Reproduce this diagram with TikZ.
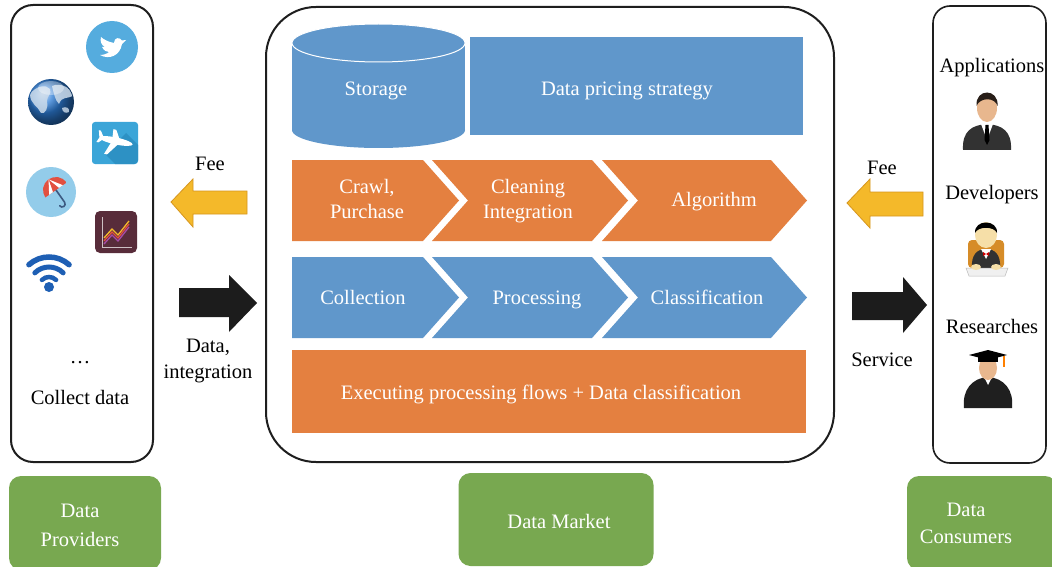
\documentclass[tikz,border=0pt]{standalone}
\usepackage{fontspec}
\setmainfont{Liberation Serif}
\definecolor{mblue}{RGB}{96,151,203}
\definecolor{morange}{RGB}{228,128,64}
\definecolor{mgreen}{RGB}{120,168,80}
\definecolor{myellow}{RGB}{244,185,42}
\definecolor{myellowedge}{RGB}{214,150,30}
\definecolor{frameink}{RGB}{30,30,30}
\definecolor{arrowink}{RGB}{28,28,28}
\definecolor{twblue}{RGB}{85,172,222}
\definecolor{globeblue}{RGB}{45,125,215}
\definecolor{landgrey}{RGB}{205,220,235}
\definecolor{planeblue}{RGB}{59,165,216}
\definecolor{planeshadow}{RGB}{45,145,196}
\definecolor{umbblue}{RGB}{147,204,234}
\definecolor{umbred}{RGB}{226,80,64}
\definecolor{umbhandle}{RGB}{60,90,130}
\definecolor{chartplum}{RGB}{88,44,58}
\definecolor{wifiblue}{RGB}{30,95,180}
\definecolor{skin}{RGB}{232,183,142}
\definecolor{skinpale}{RGB}{246,223,168}
\definecolor{hairdark}{RGB}{40,30,24}
\definecolor{suitdark}{RGB}{50,50,50}
\definecolor{chairorange}{RGB}{214,140,40}
\begin{document}
\begin{tikzpicture}[x=1pt,y=-1pt,
  panel/.style={draw=frameink, line width=2pt},
  lbl/.style={font=\fontsize{20.5}{26}\selectfont, text=black, align=center, inner sep=0pt},
  wlbl/.style={lbl, text=white},
  one/.style={text height=14pt, text depth=0pt},
  greenbox/.style={fill=mgreen, rounded corners=12pt, inner sep=0pt},
  flatbox/.style={inner sep=0pt},
  fatarrowy/.style={fill=myellow, draw=myellowedge, line width=0.8pt},
  fatarrowk/.style={fill=arrowink}
]
\useasboundingbox (0,0) rectangle (1052,567);
\fill[white] (0,0) rectangle (1052,567);

% ---------- three panels ----------
\draw[panel, rounded corners=22pt] (11,5) rectangle (153,462);
\draw[panel, rounded corners=50pt] (266,7) rectangle (834,462);
\draw[panel, line width=1.6pt, rounded corners=17pt] (933,6) rectangle (1046,463);

% ---------- green captions ----------
\node[greenbox, minimum width=152pt, minimum height=94pt] (provbox) at (85,523) {};
\node[wlbl, font=\fontsize{20.5}{29}\selectfont] (provtext) at (80,525) {Data\\Providers};
\node[greenbox, minimum width=195pt, minimum height=93pt] (marketbox) at (556,519.5) {};
\node[wlbl, one] (markettext) at (559,521) {Data Market};
\node[greenbox, minimum width=150pt, minimum height=94pt] (consbox) at (982,523) {};
\node[wlbl, font=\fontsize{20.5}{27}\selectfont] (constext) at (966,523) {Data\\Consumers};

% ---------- storage cylinder ----------
\fill[mblue] (292,43) rectangle (465,130);
\fill[mblue] (378.5,130) ellipse[x radius=86.5, y radius=18];
\draw[white, line width=1pt, fill=mblue] (378.5,43) ellipse[x radius=86.5, y radius=19];
\node[wlbl, one] (storage) at (376,89) {Storage};

% ---------- pricing block ----------
\node[flatbox, fill=mblue, minimum width=333pt, minimum height=98pt] (pricingbox) at (636.5,86) {};
\node[wlbl, one] (pricing) at (627,89) {Data pricing strategy};

% ---------- orange chevrons ----------
\fill[morange] (292,160) -- (423,160) -- (459,200.5) -- (423,241) -- (292,241) -- cycle;
\fill[morange] (432,160) -- (592,160) -- (628,200.5) -- (592,241) -- (432,241) -- (468,200.5) -- cycle;
\fill[morange] (602,160) -- (771,160) -- (807,200.5) -- (771,241) -- (602,241) -- (638,200.5) -- cycle;
\node[wlbl, font=\fontsize{20.5}{25}\selectfont] (crawl) at (367,198.5) {Crawl,\\Purchase};
\node[wlbl, font=\fontsize{20.5}{25}\selectfont] (clean) at (528,201.5) {Cleaning\\Integration};
\node[wlbl, one] (algo) at (714,199) {Algorithm};

% ---------- blue chevrons ----------
\fill[mblue] (292,257) -- (423,257) -- (459,297.5) -- (423,338) -- (292,338) -- cycle;
\fill[mblue] (432,257) -- (592,257) -- (628,297.5) -- (592,338) -- (432,338) -- (468,297.5) -- cycle;
\fill[mblue] (602,257) -- (771,257) -- (807,297.5) -- (771,338) -- (602,338) -- (638,297.5) -- cycle;
\node[wlbl, one] (collection) at (363,297) {Collection};
\node[wlbl, one] (processing) at (537,297) {Processing};
\node[wlbl, one] (classification) at (707,297) {Classification};

% ---------- execution bar ----------
\node[flatbox, fill=morange, minimum width=514pt, minimum height=83pt] (execbox) at (549,391.5) {};
\node[wlbl, one] (exec) at (541,392) {Executing processing flows + Data classification};

% ---------- fat arrows between panels ----------
\draw[fatarrowy] (171,202) -- (193,179) -- (193,191) -- (247,191) -- (247,214) -- (193,214) -- (193,227) -- cycle;
\fill[fatarrowk] (179,288) -- (229,288) -- (229,275) -- (257,303) -- (229,332) -- (229,317) -- (179,317) -- cycle;
\draw[fatarrowy] (847,203) -- (870,179) -- (870,192) -- (923,192) -- (923,216) -- (870,216) -- (870,228) -- cycle;
\fill[fatarrowk] (852,292) -- (903,292) -- (903,277) -- (927,305) -- (903,333) -- (903,320) -- (852,320) -- cycle;
\node[lbl, one] (feeleft) at (210,163) {Fee};
\node[lbl] (dataint) at (208,361) {Data,\\integration};
\node[lbl, one] (feeright) at (882,167) {Fee};
\node[lbl, one] (service) at (882,359) {Service};

% ---------- provider icons ----------
% bird badge
\fill[twblue] (112,47) circle[radius=26];
\begin{scope}[shift={(113,48)}]
\fill[white] (-13,7) .. controls (-4,12) and (7,8) .. (9,-4) -- (13,-8) -- (9,-7.5)
  .. controls (7,-11) and (1,-11) .. (1,-5) .. controls (-5,-6) and (-10,-9) .. (-12,-11)
  .. controls (-13,-7) and (-12,-3) .. (-8,-1) -- (-11,-1) .. controls (-9,3) and (-6,4) .. (-4,4)
  .. controls (-6,6) and (-10,7) .. (-13,7) -- cycle;
\end{scope}
% globe
\shade[ball color=globeblue] (51,102) circle[radius=23];
\begin{scope}
\clip (51,102) circle[radius=22];
\fill[landgrey, opacity=0.85] (30,94) .. controls (36,86) and (46,84) .. (50,89) .. controls (52,94) and (47,96) .. (47,101)
  .. controls (49,107) and (45,115) .. (41,113) .. controls (38,106) and (30,104) .. (30,94) -- cycle;
\fill[landgrey, opacity=0.85] (52,86) .. controls (60,82) and (72,88) .. (73,96) .. controls (67,99) and (62,96) .. (59,104)
  .. controls (55,100) and (54,94) .. (52,86) -- cycle;
\fill[landgrey, opacity=0.8] (62,108) .. controls (66,106) and (70,108) .. (69,112) .. controls (66,114) and (62,112) .. (62,108) -- cycle;
\end{scope}
\fill[white, opacity=0.35] (51,88) ellipse[x radius=13, y radius=7];
% plane tile
\fill[planeblue, rounded corners=3pt] (92,122) rectangle (138,164);
\fill[planeshadow] (105,154) -- (126,133) -- (138,145) -- (138,160) .. controls (138,162) and (136,164) .. (134,164) -- (115,164) -- cycle;
\begin{scope}[shift={(116,141)}, rotate=-12]
\fill[white] (0,0) ellipse[x radius=17, y radius=3.5];
\fill[white] (4,1) -- (-6,15) -- (-9,15) -- (-4,1) -- cycle;
\fill[white] (4,-1) -- (-2,-11) -- (-5,-11) -- (-4,-1) -- cycle;
\fill[white] (-12,0) -- (-17,-7) -- (-19,-7) -- (-17,0) -- cycle;
\fill[white] (-12,0) -- (-17,5) -- (-19,5) -- (-17,0) -- cycle;
\end{scope}
% umbrella badge
\fill[umbblue] (51,192) circle[radius=25];
\begin{scope}[shift={(56,190)}, rotate=35]
\draw[umbhandle, line width=1.6pt, line cap=round] (0,-2) -- (0,15) arc[start angle=0, end angle=180, radius=3];
\begin{scope}
\clip (-13,0) arc[start angle=180, end angle=360, radius=13] -- cycle;
\fill[umbred] (-13,-14) rectangle (13,1);
\fill[white] (0,-13) -- (-9,1) -- (-4,1) -- cycle;
\fill[white] (0,-13) -- (4,1) -- (9,1) -- cycle;
\end{scope}
\end{scope}
% chart tile
\fill[chartplum, rounded corners=5pt] (95,211) rectangle (137,253);
\draw[white!70!chartplum, line width=0.8pt] (102,217) -- (102,247) -- (132,247);
\draw[umbred, line width=1.3pt] (104,241) -- (112,232) -- (118,238) -- (129,224);
\draw[myellow, line width=1.3pt] (104,238) -- (112,229) -- (118,235) -- (129,221);
\draw[violet!70!white, line width=1.3pt] (104,244) -- (112,235) -- (118,241) -- (129,227);
% wireless
\fill[wifiblue] (49,287) circle[radius=5];
\draw[wifiblue, line width=4.5pt, line cap=round] (49,287) ++(-135:10) arc[start angle=-135, end angle=-45, radius=10];
\draw[wifiblue, line width=5pt, line cap=round] (49,287) ++(-135:20) arc[start angle=-135, end angle=-45, radius=20];
\draw[wifiblue, line width=5.5pt, line cap=round] (49,287) ++(-132:30) arc[start angle=-132, end angle=-48, radius=30];
\node[lbl] (dots) at (80,363) {\dots};
\node[lbl, one] (collect) at (80,397) {Collect data};

% ---------- consumer icons ----------
\node[lbl, one] (apps) at (992,66) {Applications};
\node[lbl, one] (devs) at (992,192) {Developers};
\node[lbl, one] (res) at (992,326) {Researches};
% businessman
\fill[suitdark] (963,150) .. controls (962,131) and (972,125) .. (987,124) .. controls (1002,125) and (1012,131) .. (1011,150) -- cycle;
\fill[white] (981,124) -- (993,124) -- (987,140) -- cycle;
\fill[black] (985.5,125) -- (988.5,125) -- (989.5,140) -- (987,145) -- (984.5,140) -- cycle;
\fill[skin] (987,108) ellipse[x radius=10, y radius=14];
\fill[hairdark] (976.5,106) .. controls (975,88) and (999,88) .. (997.5,106) .. controls (995,97) and (980,97) .. (976.5,106) -- cycle;
% developer
\fill[chairorange, rounded corners=4pt] (968,240) rectangle (1004,268);
\fill[suitdark] (972,268) .. controls (971,255) and (977,249) .. (986,249) .. controls (995,249) and (1001,255) .. (1000,268) -- cycle;
\fill[white] (981,249) -- (991,249) -- (986,259) -- cycle;
\fill[red!80!black] (983,252) -- (989,256) -- (989,252) -- (983,256) -- cycle;
\fill[skinpale] (986,235) ellipse[x radius=11, y radius=13];
\fill[black] (975,233) .. controls (974,219) and (998,219) .. (997,233) .. controls (994,226) and (978,226) .. (975,233) -- cycle;
\fill[gray!12, draw=gray!55, line width=0.5pt] (966,268) -- (1008,268) -- (1005,276) -- (969,276) -- cycle;
\fill[skinpale] (976,267) ellipse[x radius=5, y radius=3];
\fill[skinpale] (996,267) ellipse[x radius=5, y radius=3];
% graduate
\fill[black!88] (964,408) .. controls (962,390) and (972,378) .. (988,377) .. controls (1004,378) and (1014,390) .. (1012,408) -- cycle;
\fill[white] (984,377) -- (992,377) -- (988,385) -- cycle;
\fill[skin] (988,368) ellipse[x radius=9, y radius=12];
\fill[black] (978,355) rectangle (998,362);
\fill[black] (969,355) -- (988,350) -- (1007,355) -- (988,360) -- cycle;
\draw[orange, line width=1.3pt] (1004,356) -- (1004,367);
\end{tikzpicture}
\end{document}
